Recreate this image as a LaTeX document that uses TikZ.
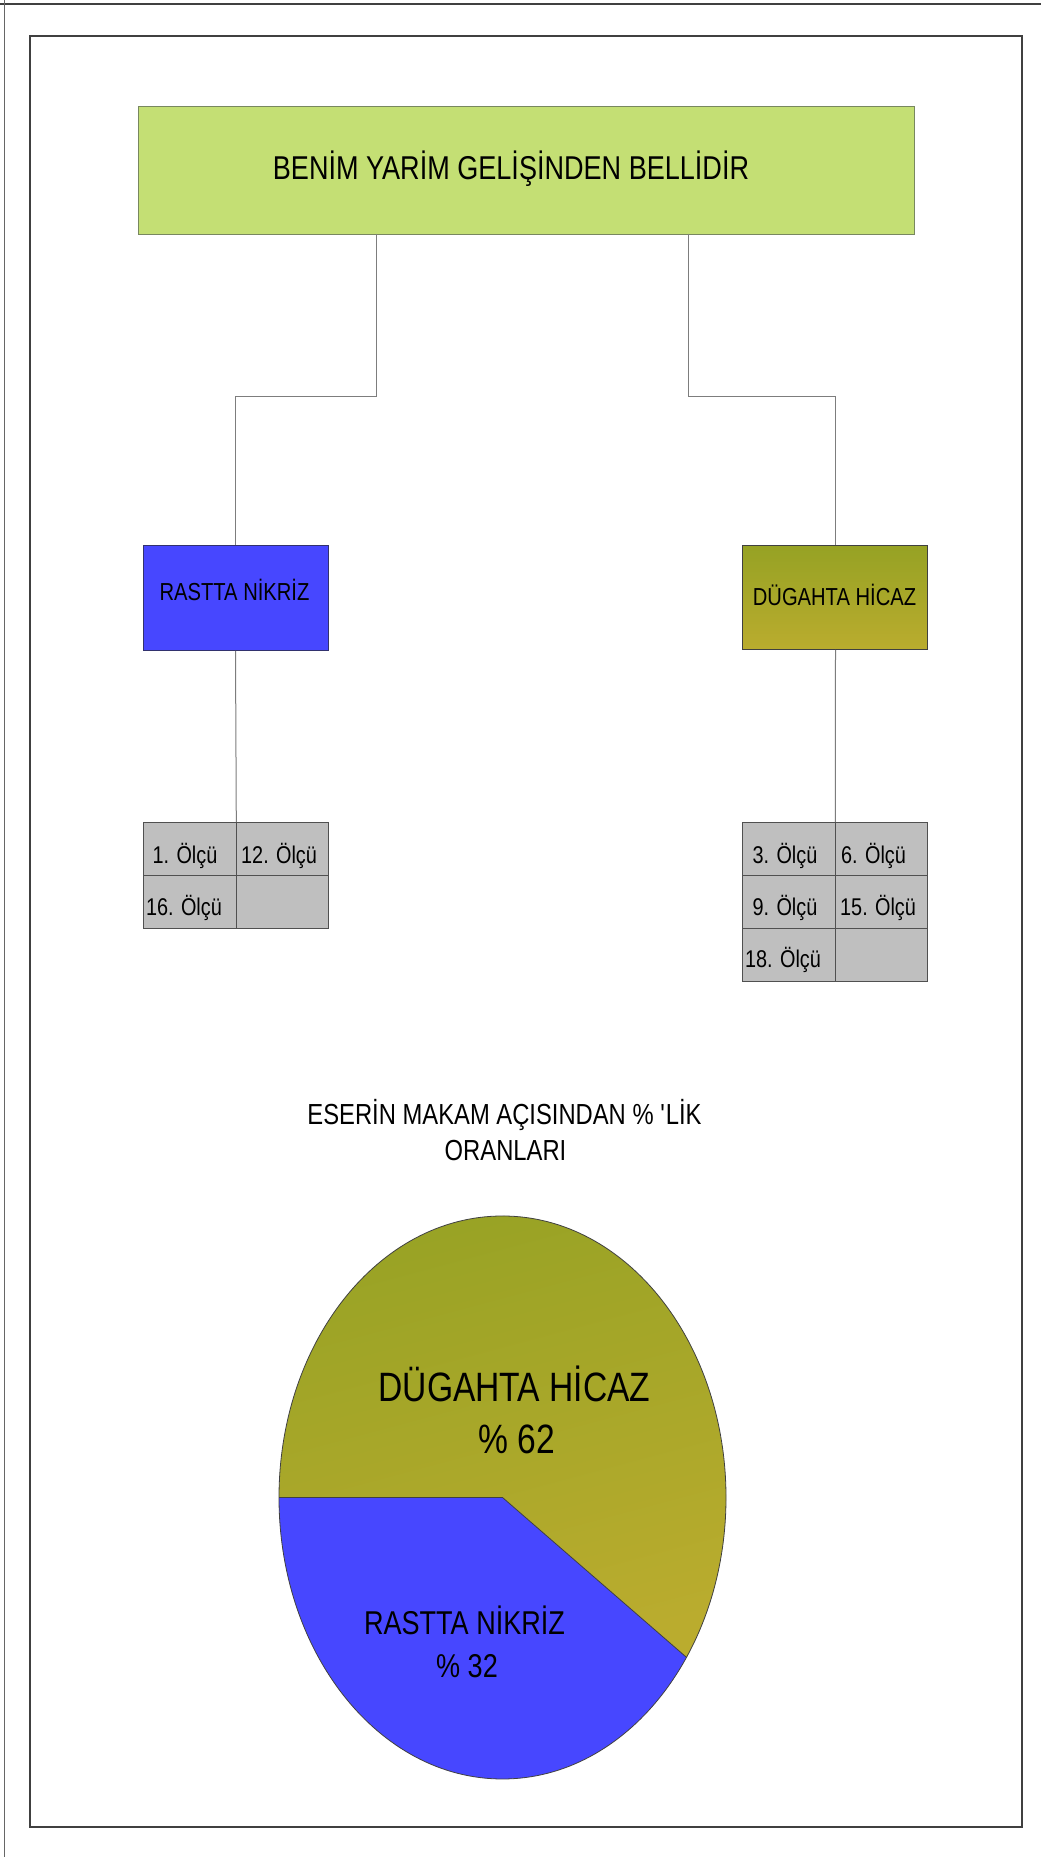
\documentclass[tikz,border=0pt]{standalone}
\usepackage{fontspec}
\setmainfont{Liberation Sans}[FakeStretch=0.82]
\usetikzlibrary{calc}

\definecolor{titlegreen}{RGB}{196,223,116}
\definecolor{titleedge}{RGB}{120,135,95}
\definecolor{makamblue}{RGB}{71,71,255}
\definecolor{blueedge}{RGB}{50,50,110}
\definecolor{olivetop}{RGB}{150,162,36}
\definecolor{olivebot}{RGB}{186,172,46}
\definecolor{cellgray}{RGB}{191,191,191}
\definecolor{celledge}{RGB}{80,80,80}
\definecolor{wiregray}{RGB}{125,125,125}
\definecolor{framegray}{RGB}{64,64,64}

\tikzset{
  box/.style={draw, line width=0.8pt, inner sep=0pt, anchor=north west},
  titlebox/.style={box, fill=titlegreen, draw=titleedge},
  rastbox/.style={box, fill=makamblue, draw=blueedge},
  dugbox/.style={box, top color=olivetop, bottom color=olivebot, draw=framegray},
  cell/.style={box, fill=cellgray, draw=celledge, minimum width=92.5pt, minimum height=53pt},
  wire/.style={draw=wiregray, line width=1pt},
  lbl/.style={inner sep=0pt, anchor=base, text=black},
  lblw/.style={inner sep=0pt, anchor=base west, text=black},
  fbig/.style={font=\fontsize{33}{40}\selectfont},
  fmid/.style={font=\fontsize{24.6}{30}\selectfont},
  fcell/.style={font=\fontsize{24.2}{30}\selectfont},
  fchart/.style={font=\fontsize{29}{36}\selectfont},
  fpieA/.style={font=\fontsize{41}{50}\selectfont},
  fpieB/.style={font=\fontsize{33}{40}\selectfont},
}

\begin{document}
\begin{tikzpicture}[x=1pt,y=1pt]
\useasboundingbox (0,0) rectangle (1041,1857);
\fill[white] (0,0) rectangle (1041,1857);

% page edges and inner frame
\draw[framegray, line width=1.5pt] (0,1853) -- (1041,1853);
\draw[framegray!80, line width=1pt] (4,1857) -- (4,0);
\draw[framegray, line width=1.4pt] (30,1821) rectangle (1022,30);

% title box
\node[titlebox, minimum width=776pt, minimum height=128pt] (title) at (138,1751) {};
\node[lbl, fbig] (titletext) at (511,1677) {BENİM YARİM GELİŞİNDEN BELLİDİR};

% makam boxes
\node[rastbox, minimum width=185pt, minimum height=105pt] (rast) at (143,1312) {};
\node[lbl, fmid] (rasttext) at (234.5,1256) {RASTTA NİKRİZ};
\node[dugbox, minimum width=185pt, minimum height=104pt] (dug) at (742,1312) {};
\node[lbl, fmid] (dugtext) at (834.5,1251) {DÜGAHTA HİCAZ};

% connectors from the title
\coordinate (la) at (376,1623);
\coordinate (lb) at (376,1460);
\coordinate (lc) at (235.5,1460);
\coordinate (ra) at (688,1623);
\coordinate (rb) at (688,1460);
\coordinate (rc) at (835.5,1460);
\draw[wire] (la) -- (lb) -- (lc) -- (rast.north -| lc);
\draw[wire] (ra) -- (rb) -- (rc) -- (dug.north -| rc);

% left table
\node[cell] (l11) at (143,1035) {};
\node[cell] (l12) at (235.5,1035) {};
\node[cell] (l21) at (143,982) {};
\node[cell] (l22) at (235.5,982) {};
\node[lbl, fcell] (t1) at (185,993) {1. Ölçü};
\node[lblw, fcell] (t12) at (241,993) {12. Ölçü};
\node[lbl, fcell] (t16) at (184,941) {16. Ölçü};

% right table
\node[cell] (r11) at (742,1035) {};
\node[cell] (r12) at (834.5,1035) {};
\node[cell] (r21) at (742,982) {};
\node[cell] (r22) at (834.5,982) {};
\node[cell] (r31) at (742,929) {};
\node[cell] (r32) at (834.5,929) {};
\node[lbl, fcell] (t3) at (785,993) {3. Ölçü};
\node[lblw, fcell] (t6) at (841,993) {6. Ölçü};
\node[lbl, fcell] (t9) at (785,941) {9. Ölçü};
\node[lblw, fcell] (t15) at (840,941) {15. Ölçü};
\node[lbl, fcell] (t18) at (783,889) {18. Ölçü};

% connectors down to the tables
\draw[wire] (rast.south -| lc) -- (l11.north east);
\draw[wire] (dug.south -| rc) -- (r11.north east);

% chart title
\node[lbl, fchart] (ct1) at (504.5,732) {ESERİN MAKAM AÇISINDAN \% \textquotesingle LİK};
\node[lbl, fchart] (ct2) at (505.5,696) {ORANLARI};

% pie chart
\coordinate (pc) at (502.5,359.5);
\shade[top color=olivetop, bottom color=olivebot, shading angle=15]
  (pc) -- ++(-34.6:223.5pt and 281.5pt)
  arc[start angle=-34.6, end angle=180, x radius=223.5pt, y radius=281.5pt] -- cycle;
\fill[makamblue]
  (pc) -- ++(180:223.5pt and 281.5pt)
  arc[start angle=180, end angle=325.4, x radius=223.5pt, y radius=281.5pt] -- cycle;
\draw[framegray, line width=0.8pt] (pc) ellipse[x radius=223.5pt, y radius=281.5pt];
\draw[framegray, line width=0.8pt] ($(pc)+(-223.5,0)$) -- (pc) -- ++(-34.6:223.5pt and 281.5pt);

\node[lbl, fpieA] (p1) at (514.5,455) {DÜGAHTA HİCAZ};
\node[lbl, fpieA] (p2) at (516.5,403.5) {\% 62};
\node[lbl, fpieB] (p3) at (464.5,222) {RASTTA NİKRİZ};
\node[lbl, fpieB] (p4) at (467,179.5) {\% 32};
\end{tikzpicture}
\end{document}
